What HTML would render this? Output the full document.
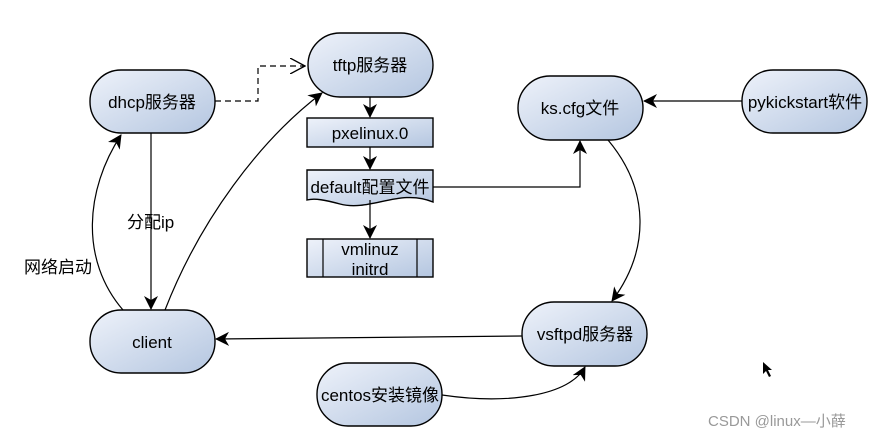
<!DOCTYPE html>
<html><head><meta charset="utf-8"><style>
body{margin:0;background:#fff;}
svg text{font-family:"Liberation Sans","Noto Sans CJK SC",sans-serif;font-size:17px;fill:#000;}
</style></head><body>
<svg width="896" height="438" viewBox="0 0 896 438" xmlns="http://www.w3.org/2000/svg">
<defs>
<linearGradient id="g" x1="0" y1="0" x2="1" y2="1">
<stop offset="0" stop-color="#eef2fa"/><stop offset="1" stop-color="#b4c6e0"/>
</linearGradient>
<marker id="a" markerWidth="14" markerHeight="14" refX="13" refY="7" orient="auto" markerUnits="userSpaceOnUse">
<path d="M0,0 L14,7 L0,14 L4,7 Z" fill="#000"/></marker>
<marker id="o" markerWidth="16" markerHeight="16" refX="15" refY="8" orient="auto" markerUnits="userSpaceOnUse">
<path d="M0,0 L15,8 L0,16" fill="none" stroke="#000" stroke-width="1.3"/></marker>
</defs>
<g stroke="#000" stroke-width="1.4" fill="url(#g)">
<rect x="90" y="70" width="125" height="63" rx="31"/>
<rect x="308" y="33" width="125" height="64" rx="32"/>
<rect x="518" y="76" width="125" height="64" rx="32"/>
<rect x="742" y="70" width="125" height="63" rx="31"/>
<rect x="90" y="310" width="125" height="63" rx="31"/>
<rect x="522" y="302" width="125" height="64" rx="32"/>
<rect x="317" y="363" width="125" height="63" rx="31"/>
<rect x="307" y="118" width="126" height="29"/>
<path d="M307,170 H433 V202 C400,188 370,212 340,204 C325,200 315,198 307,200 Z"/>
<rect x="307" y="239" width="126" height="38"/>
</g>
<g stroke="#000" stroke-width="1.2" fill="none">
<line x1="323" y1="239" x2="323" y2="277"/><line x1="417" y1="239" x2="417" y2="277"/>
<path d="M215,101 H258 V66 H305" stroke-dasharray="6,4" marker-end="url(#o)"/>
<line x1="151" y1="133" x2="151" y2="309" marker-end="url(#a)"/>
<path d="M123,310 C80,260 85,190 121,135" marker-end="url(#a)"/>
<path d="M165,310 C200,220 260,140 322,93" marker-end="url(#a)"/>
<line x1="370" y1="97" x2="370" y2="117" marker-end="url(#a)"/>
<line x1="370" y1="147" x2="370" y2="169" marker-end="url(#a)"/>
<line x1="370" y1="200" x2="370" y2="238" marker-end="url(#a)"/>
<path d="M433,187 H580 V141" marker-end="url(#a)"/>
<line x1="742" y1="101" x2="644" y2="101" marker-end="url(#a)"/>
<path d="M608,140 C650,190 650,250 612,301" marker-end="url(#a)"/>
<line x1="522" y1="336" x2="216" y2="339" marker-end="url(#a)"/>
<path d="M442,395 C510,405 570,395 585,367" marker-end="url(#a)"/>
</g>
<text x="152" y="108" text-anchor="middle">dhcp服务器</text>
<text x="370" y="71" text-anchor="middle">tftp服务器</text>
<text x="370" y="139" text-anchor="middle">pxelinux.0</text>
<text x="370" y="193" text-anchor="middle">default配置文件</text>
<text x="370" y="255" text-anchor="middle">vmlinuz</text>
<text x="370" y="275" text-anchor="middle">initrd</text>
<text x="580" y="114" text-anchor="middle">ks.cfg文件</text>
<text x="805" y="108" text-anchor="middle">pykickstart软件</text>
<text x="152" y="348" text-anchor="middle">client</text>
<text x="585" y="340" text-anchor="middle">vsftpd服务器</text>
<text x="380" y="401" text-anchor="middle">centos安装镜像</text>
<text x="127" y="228">分配ip</text>
<text x="24" y="273">网络启动</text>
<text x="708" y="426" style="fill:#999;font-size:15px">CSDN @linux—小薛</text>
<path d="M763,362 L763,374 L766,371 L769,377 L771,376 L768,370 L772,370 Z" fill="#000"/>
</svg>
</body></html>
